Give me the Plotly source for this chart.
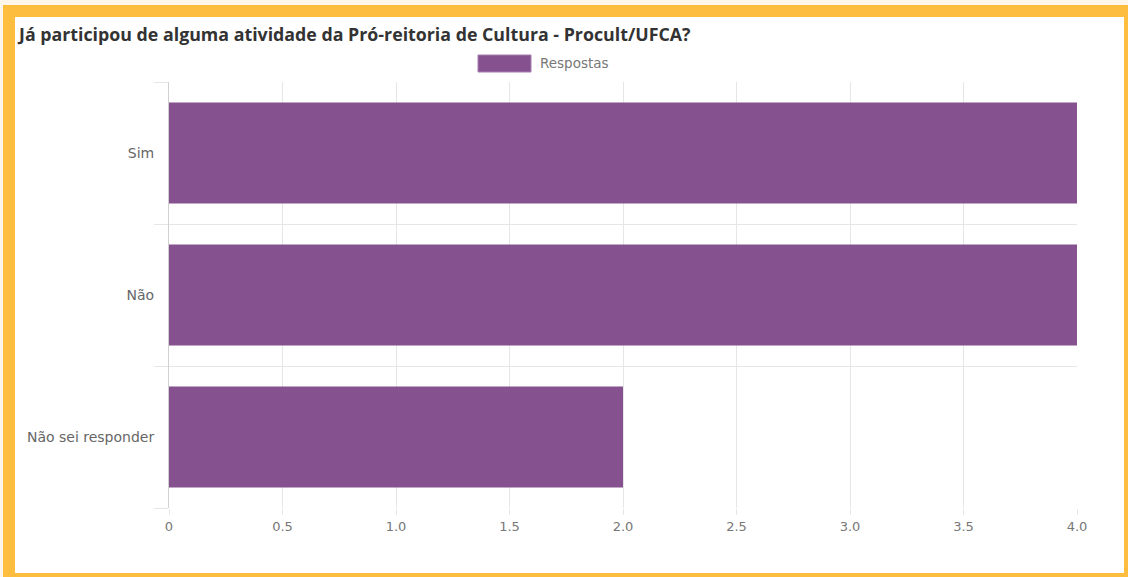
import plotly.graph_objects as go

# Data
categories = ["Sim", "Não", "Não sei responder"]
values = [4, 4, 2]
series_name = "Respostas"
x_tick_vals = [0, 0.5, 1.0, 1.5, 2.0, 2.5, 3.0, 3.5, 4.0]
x_tick_text = ["0", "0.5", "1.0", "1.5", "2.0", "2.5", "3.0", "3.5", "4.0"]
title_text = "Já participou de alguma atividade da Pró-reitoria de Cultura - Procult/UFCA?"

W, H = 1128, 577
L, R, T, B = 169, 1077, 82, 508  # plot area in pixels


def px(x):
    return (x - L) / (R - L)


def py(y):
    return (B - y) / (B - T)


BAR = "#85528F"
ORANGE = "#FDBE3F"
CREAM = "#FEF6E8"
LABEL_FONT = "DejaVu Sans"

fig = go.Figure()
fig.add_trace(go.Bar(
    x=values[::-1], y=categories[::-1], orientation="h",
    name=series_name, marker=dict(color=BAR, line=dict(width=0)),
    showlegend=False,
))

shapes = [
    # white card
    dict(type="rect", xref="paper", yref="paper", x0=px(15), x1=px(1124), y0=py(573), y1=py(17),
         fillcolor="white", line=dict(width=0), layer="below"),
    # cream strip top / left
    dict(type="rect", xref="paper", yref="paper", x0=px(0), x1=px(W), y0=py(5), y1=py(0),
         fillcolor=CREAM, line=dict(width=0), layer="below"),
    dict(type="rect", xref="paper", yref="paper", x0=px(0), x1=px(3), y0=py(H), y1=py(0),
         fillcolor=CREAM, line=dict(width=0), layer="below"),
    # legend swatch
    dict(type="rect", xref="paper", yref="paper", x0=px(478), x1=px(531), y0=py(72), y1=py(55),
         fillcolor=BAR, line=dict(color="#A57FAE", width=1)),
]

annotations = [
    dict(text="<b>" + title_text + "</b>", xref="paper", yref="paper", x=px(15), y=py(34),
         xanchor="left", yanchor="middle", showarrow=False,
         font=dict(family="Open Sans", size=17.8, color="#333333")),
    dict(text=series_name, xref="paper", yref="paper", x=px(538), y=py(63), xanchor="left",
         yanchor="middle", showarrow=False,
         font=dict(family=LABEL_FONT, size=13.5, color="#777777")),
]

fig.update_layout(
    width=W, height=H,
    margin=dict(l=L, r=W - R, t=T, b=H - B),
    paper_bgcolor=ORANGE, plot_bgcolor="white",
    bargap=0.29,
    shapes=shapes, annotations=annotations,
    showlegend=False,
    font=dict(family=LABEL_FONT, size=13, color="#666666"),
    xaxis=dict(range=[0, 4], tickvals=x_tick_vals, ticktext=x_tick_text,
               showgrid=True, gridcolor="#E6E6E6", gridwidth=1, zeroline=False,
               ticks="outside", ticklen=6, tickcolor="#E6E6E6",
               showline=False, tickfont=dict(family=LABEL_FONT, size=13, color="#777777"),
               fixedrange=True),
    yaxis=dict(tickson="boundaries", showgrid=True, gridcolor="#E6E6E6", gridwidth=1,
               ticks="outside", ticklen=14, tickcolor="#E6E6E6",
               ticklabelstandoff=11,
               showline=True, linecolor="#D0D0D0", linewidth=1,
               tickfont=dict(family=LABEL_FONT, size=14, color="#666666"), fixedrange=True),
)

fig.write_html("out.html", config={"displayModeBar": False},
               post_script="document.body.style.margin='0';")
